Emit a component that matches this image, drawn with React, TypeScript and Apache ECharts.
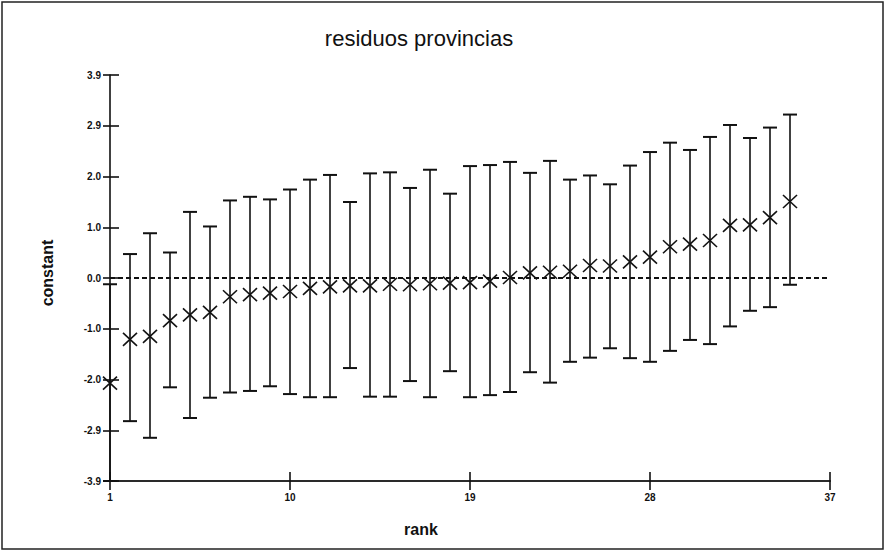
import React, { useEffect, useRef } from "react";
import * as echarts from "echarts";

const ranks = [1, 2, 3, 4, 5, 6, 7, 8, 9, 10, 11, 12, 13, 14, 15, 16, 17, 18, 19, 20, 21, 22, 23, 24, 25, 26, 27, 28, 29, 30, 31, 32, 33, 34, 35];
const estimates = [-2.02, -1.18, -1.12, -0.82, -0.71, -0.66, -0.36, -0.32, -0.29, -0.26, -0.2, -0.17, -0.15, -0.15, -0.12, -0.13, -0.11, -0.1, -0.09, -0.06, 0.01, 0.1, 0.11, 0.13, 0.24, 0.23, 0.31, 0.4, 0.6, 0.65, 0.72, 1.01, 1.02, 1.16, 1.47];
const upperBounds = [-0.12, 0.46, 0.86, 0.49, 1.27, 0.99, 1.49, 1.56, 1.51, 1.7, 1.89, 1.98, 1.46, 2.01, 2.03, 1.73, 2.08, 1.62, 2.15, 2.17, 2.23, 2.02, 2.25, 1.89, 1.97, 1.8, 2.16, 2.42, 2.6, 2.46, 2.71, 2.94, 2.69, 2.89, 3.14];
const lowerBounds = [-3.9, -2.75, -3.07, -2.1, -2.69, -2.3, -2.2, -2.17, -2.08, -2.23, -2.29, -2.29, -1.73, -2.28, -2.28, -1.98, -2.29, -1.79, -2.29, -2.25, -2.19, -1.81, -2.01, -1.61, -1.53, -1.35, -1.54, -1.61, -1.4, -1.19, -1.27, -0.93, -0.63, -0.56, -0.13];
const xTicks = [1, 10, 19, 28, 37];
const yTickLabels = ["-3.9", "-2.9", "-2.0", "-1.0", "0.0", "1.0", "2.0", "2.9", "3.9"];
const Y_MIN = -3.9;
const Y_MAX = 3.9;
const Y_STEP = 0.975;

const INK = "#111";
const LABEL_FONT = "'Liberation Sans Narrow', 'Liberation Sans', Arial, sans-serif";

export default function App() {
  const ref = useRef<HTMLDivElement>(null);

  useEffect(() => {
    if (!ref.current) return;
    const chart = echarts.init(ref.current, undefined, { renderer: "svg" });
    const data = ranks.map((r, i) => [r, estimates[i], lowerBounds[i], upperBounds[i]]);

    const tickLabel = {
      color: INK,
      fontSize: 10,
      fontWeight: "bold" as const,
      fontFamily: LABEL_FONT,
    };

    chart.setOption({
      animation: false,
      backgroundColor: "#fff",
      grid: { left: 110, right: 56, top: 75, bottom: 71, containLabel: false },
      xAxis: [
        {
          type: "value",
          min: 1,
          max: 37,
          position: "bottom",
          axisLine: { show: true, onZero: false, lineStyle: { color: "#2a2a2a", width: 2.2 } },
          axisTick: { show: true, customValues: xTicks, length: 9, lineStyle: { color: INK, width: 1.6 } },
          axisLabel: { show: true, customValues: xTicks, margin: 11, ...tickLabel },
          splitLine: { show: false },
        },
        {
          type: "value",
          min: 1,
          max: 37,
          position: "bottom",
          axisLine: { show: false, onZero: false },
          axisTick: { show: true, inside: true, customValues: xTicks, length: 9, lineStyle: { color: INK, width: 1.6 } },
          axisLabel: { show: false },
          splitLine: { show: false },
        },
      ],
      yAxis: [
        {
          type: "value",
          min: Y_MIN,
          max: Y_MAX,
          interval: Y_STEP,
          position: "left",
          axisLine: { show: true, onZero: false, lineStyle: { color: INK, width: 1.6 } },
          axisTick: { show: true, length: 7, lineStyle: { color: INK, width: 1.6 } },
          axisLabel: {
            show: true,
            margin: 9,
            ...tickLabel,
            formatter: (v: number) => yTickLabels[Math.round((v - Y_MIN) / Y_STEP)] ?? "",
          },
          splitLine: { show: false },
        },
        {
          type: "value",
          min: Y_MIN,
          max: Y_MAX,
          interval: Y_STEP,
          position: "left",
          axisLine: { show: false, onZero: false },
          axisTick: { show: true, inside: true, length: 9, lineStyle: { color: INK, width: 1.6 } },
          axisLabel: { show: false },
          splitLine: { show: false },
        },
      ],
      series: [
        {
          type: "custom",
          xAxisIndex: 0,
          yAxisIndex: 0,
          data,
          encode: { x: 0, y: 1 },
          clip: false,
          renderItem: (_params: any, api: any) => {
            const x = api.value(0);
            const y = api.value(1);
            const lo = api.value(2);
            const hi = api.value(3);
            const pHi = api.coord([x, hi]);
            const pLo = api.coord([x, lo]);
            const p = api.coord([x, y]);
            const cap = 7;
            const mw = 7;
            const mh = 6.5;
            const ls = { stroke: INK, lineWidth: 1.6 };
            return {
              type: "group",
              children: [
                { type: "line", shape: { x1: pHi[0], y1: pHi[1], x2: pLo[0], y2: pLo[1] }, style: ls },
                { type: "line", shape: { x1: pHi[0] - cap, y1: pHi[1], x2: pHi[0] + cap, y2: pHi[1] }, style: { stroke: INK, lineWidth: 2 } },
                { type: "line", shape: { x1: pLo[0] - cap, y1: pLo[1], x2: pLo[0] + cap, y2: pLo[1] }, style: { stroke: INK, lineWidth: 2 } },
                { type: "line", shape: { x1: p[0] - mw, y1: p[1] - mh, x2: p[0] + mw, y2: p[1] + mh }, style: ls },
                { type: "line", shape: { x1: p[0] - mw, y1: p[1] + mh, x2: p[0] + mw, y2: p[1] - mh }, style: ls },
              ],
            };
          },
          markLine: {
            silent: true,
            symbol: "none",
            label: { show: false },
            lineStyle: { type: [5, 3], color: INK, width: 2 },
            data: [{ yAxis: 0 }],
          },
        },
      ],
      graphic: [
        {
          type: "rect",
          shape: { x: 2, y: 2, width: 881, height: 547 },
          style: { fill: "none", stroke: "#222", lineWidth: 1.5 },
          silent: true,
        },
        {
          type: "text",
          x: 419,
          y: 38,
          style: {
            text: "residuos provincias",
            fill: INK,
            fontSize: 22,
            fontFamily: "'Liberation Sans', Arial, sans-serif",
            textAlign: "center",
            textVerticalAlign: "middle",
          },
        },
        {
          type: "text",
          x: 47,
          y: 273,
          rotation: Math.PI / 2,
          style: {
            text: "constant",
            fill: INK,
            fontSize: 16,
            fontWeight: "bold",
            fontFamily: "'Liberation Sans', Arial, sans-serif",
            textAlign: "center",
            textVerticalAlign: "middle",
          },
        },
        {
          type: "text",
          x: 421,
          y: 529,
          style: {
            text: "rank",
            fill: INK,
            fontSize: 16,
            fontWeight: "bold",
            fontFamily: "'Liberation Sans Narrow', 'Liberation Sans', Arial, sans-serif",
            textAlign: "center",
            textVerticalAlign: "middle",
          },
        },
      ],
    });

    return () => chart.dispose();
  }, []);

  return (
    <div
      ref={ref}
      style={{ position: "absolute", left: 0, top: 0, width: 886, height: 552, background: "#fff" }}
    />
  );
}
